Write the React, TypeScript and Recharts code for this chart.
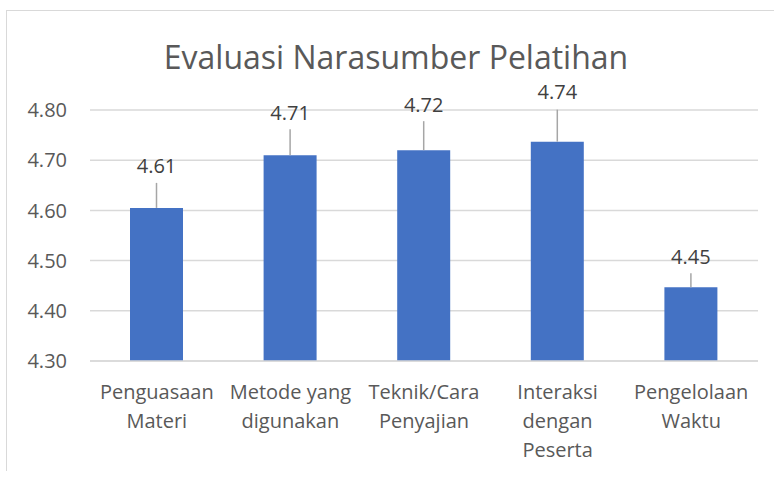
import React from "react";
import { BarChart, Bar, XAxis, YAxis, CartesianGrid, LabelList } from "recharts";

const categories = [
  "Penguasaan\nMateri",
  "Metode yang\ndigunakan",
  "Teknik/Cara\nPenyajian",
  "Interaksi\ndengan\nPeserta",
  "Pengelolaan\nWaktu",
];
const scores = [4.605, 4.71, 4.72, 4.737, 4.447];
const yTicks = [4.3, 4.4, 4.5, 4.6, 4.7, 4.8];
const title = "Evaluasi Narasumber Pelatihan";

// style: how far each data label sits above its bar (px)
const labelLift = [42, 43, 46, 50, 31];
const lineLen = [25, 26, 29, 32, 14];

const data = categories.map((c, i) => ({ name: c, value: scores[i] }));

const FONT = "'Open Sans', sans-serif";

const CatTick = (props: any) => {
  const { x, y, payload } = props;
  const lines = String(payload.value).split("\n");
  return (
    <g transform={`translate(${x},${y})`}>
      {lines.map((l, i) => (
        <text
          key={i}
          x={0}
          y={22 + i * 29}
          textAnchor="middle"
          dominantBaseline="central"
          fill="#595959"
          fontSize={20}
          fontFamily={FONT}
        >
          {l}
        </text>
      ))}
    </g>
  );
};

const DataLabel = (props: any) => {
  const { x, y, width, value, index } = props;
  const cx = x + width / 2;
  const lift = labelLift[index] ?? 42;
  const len = lineLen[index] ?? 25;
  return (
    <g>
      <line x1={cx} y1={y} x2={cx} y2={y - len} stroke="#A6A6A6" strokeWidth={1.5} />
      <text
        x={cx}
        y={y - lift}
        textAnchor="middle"
        dominantBaseline="central"
        fill="#404040"
        fontSize={20}
        fontFamily={FONT}
      >
        {Number(value).toFixed(2)}
      </text>
    </g>
  );
};

export default function App() {
  return (
    <div
      style={{
        position: "absolute",
        left: 0,
        top: 0,
        width: 774,
        height: 477,
        overflow: "hidden",
        background: "#fff",
      }}
    >
      <div
        style={{
          position: "absolute",
          left: 6,
          top: 10,
          width: 800,
          height: 460,
          borderTop: "1.5px solid #D9D9D9",
          borderLeft: "1.5px solid #D9D9D9",
        }}
      />
      <div
        style={{
          position: "absolute",
          left: 0,
          top: 37,
          width: 792,
          textAlign: "center",
          fontFamily: FONT,
          fontSize: 32,
          color: "#595959",
          lineHeight: "40px",
        }}
      >
        {title}
      </div>
      <div style={{ position: "absolute", left: 0, top: 0 }}>
        <BarChart
          width={774}
          height={477}
          data={data}
          margin={{ top: 110, right: 16, bottom: 16, left: 0 }}
          barSize={53}
        >
          <CartesianGrid vertical={false} stroke="#D9D9D9" strokeWidth={1.5} />
          <XAxis
            dataKey="name"
            axisLine={{ stroke: "#D9D9D9", strokeWidth: 1.5 }}
            tickLine={false}
            height={100}
            interval={0}
            tick={<CatTick />}
          />
          <YAxis
            domain={[4.3, 4.8]}
            ticks={yTicks}
            width={90}
            axisLine={false}
            tickLine={false}
            tickSize={0}
            tickMargin={23}
            tickFormatter={(v: number) => v.toFixed(2)}
            tick={{ fill: "#595959", fontSize: 20, fontFamily: FONT }}
            allowDataOverflow
          />
          <Bar dataKey="value" fill="#4472C4" isAnimationActive={false}>
            <LabelList dataKey="value" content={<DataLabel />} />
          </Bar>
        </BarChart>
      </div>
    </div>
  );
}
